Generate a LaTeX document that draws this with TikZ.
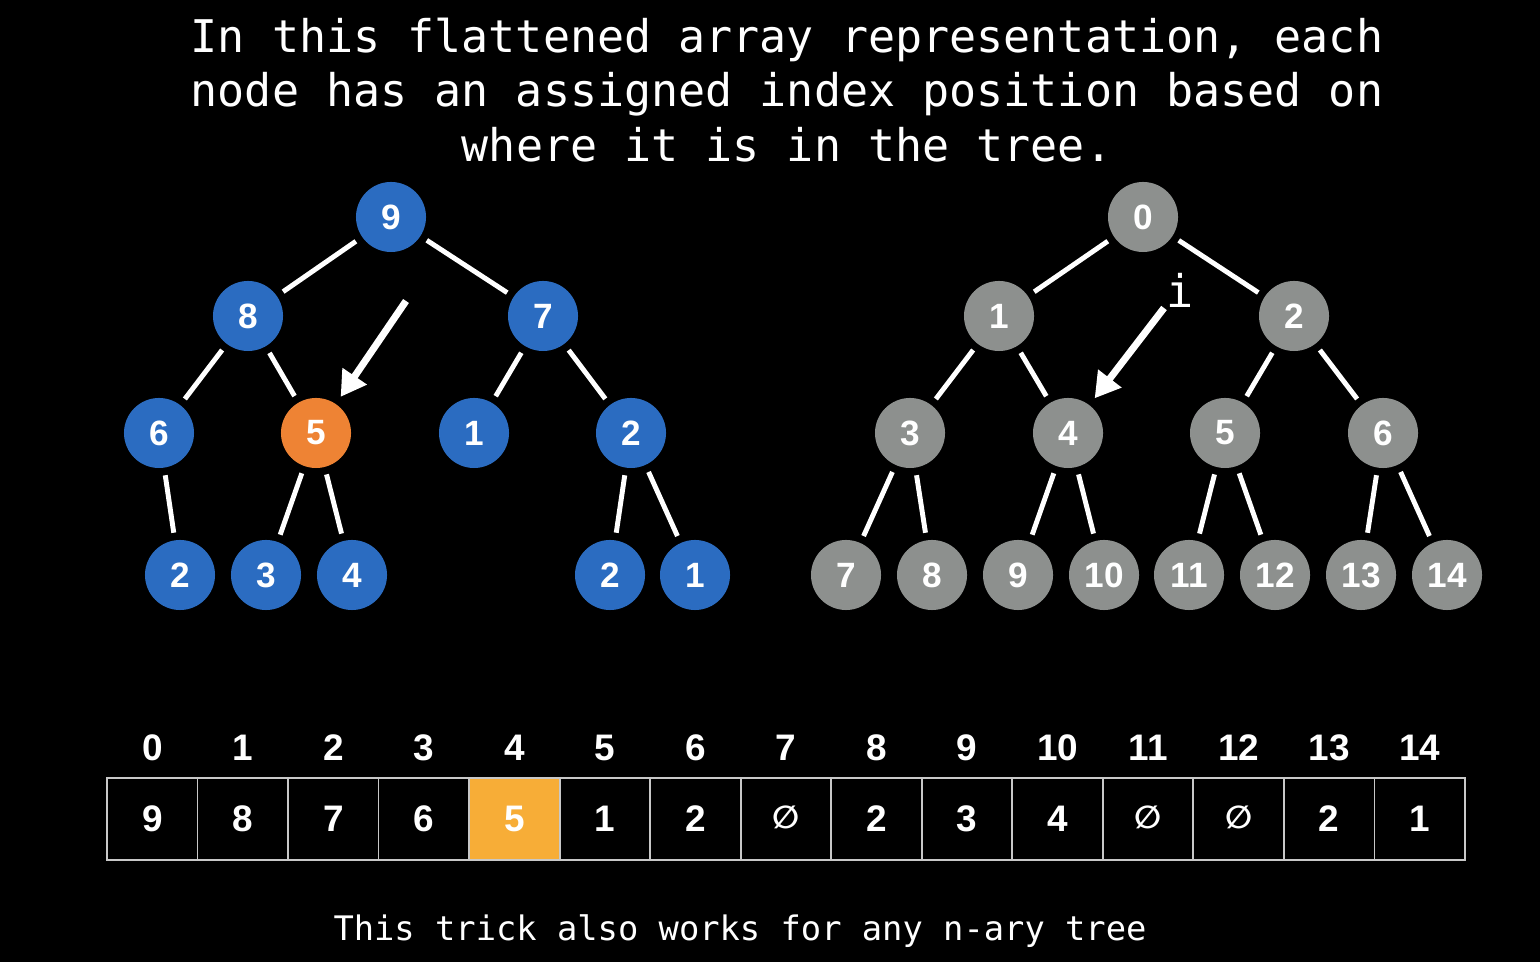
\documentclass[tikz,border=0pt]{standalone}
\usepackage{fontspec}
\setmainfont{Liberation Sans}
\setmonofont{DejaVu Sans Mono}
\newfontfamily\symfont{DejaVu Sans}
\usetikzlibrary{arrows.meta}
\definecolor{heapblue}{HTML}{2B6CC1}
\definecolor{heaporange}{HTML}{EE8334}
\definecolor{cellorange}{HTML}{F7AD37}
\definecolor{idxgray}{HTML}{8D908E}
\definecolor{cellline}{HTML}{C8C8C8}
\newcommand{\nullcell}{{\symfont\fontsize{9}{10}\selectfont\raisebox{1.2pt}{∅}}}

\begin{document}
\begin{tikzpicture}[x=0.01cm,y=-0.01cm,
    vtx/.style={circle, minimum size=0.7cm, inner sep=0pt, text=white,
      font=\bfseries\fontsize{10}{12}\selectfont},
    heapnode/.style={vtx, fill=heapblue},
    picknode/.style={vtx, fill=heaporange},
    idxnode/.style={vtx, fill=idxgray},
    edge/.style={draw=white, line width=1.4pt, shorten <=0.07cm, shorten >=0.07cm},
    pointer/.style={draw=white, line width=2pt,
      -{Triangle[length=0.25cm,width=0.28cm]}, shorten >=0.08cm},
    cell/.style={draw=cellline, line width=0.5pt, minimum width=0.9053cm,
      minimum height=0.82cm, inner sep=0pt, text=white,
      font=\bfseries\fontsize{10.5}{12}\selectfont},
    idx/.style={text=white, inner sep=0pt, font=\bfseries\fontsize{10.5}{12}\selectfont}]
  \fill[black] (0,0) rectangle (1540,962);
  \useasboundingbox (0,0) rectangle (1540,962);

  % title
  \node[text=white, align=center, font=\ttfamily\fontsize{12.8}{15.4}\selectfont] (title) at (787,90)
    {In this flattened array representation, each\\node has an assigned index position based on\\where it is in the tree.};

  % left tree (values)
  \node[heapnode] (L0) at (391,217) {9};
  \node[heapnode] (L1) at (248,316) {8};
  \node[heapnode] (L2) at (543,316) {7};
  \node[heapnode] (L3) at (159,433) {6};
  \node[picknode] (L4) at (316,433) {5};
  \node[heapnode] (L5) at (474,433) {1};
  \node[heapnode] (L6) at (631,433) {2};
  \node[heapnode] (L8) at (180,575) {2};
  \node[heapnode] (L9) at (266,575) {3};
  \node[heapnode] (L10) at (352,575) {4};
  \node[heapnode] (L13) at (610,575) {2};
  \node[heapnode] (L14) at (695,575) {1};
  \foreach \a/\b in {L0/L1,L0/L2,L1/L3,L1/L4,L2/L5,L2/L6,L3/L8,L4/L9,L4/L10,L6/L13,L6/L14}
    \draw[edge] (\a) -- (\b);
  \coordinate (ptrL) at (406,301);
  \draw[pointer] (ptrL) -- (L4);

  % right tree (indices)
  \node[idxnode] (R0) at (1143,217) {0};
  \node[idxnode] (R1) at (999,316) {1};
  \node[idxnode] (R2) at (1294,316) {2};
  \foreach \k/\x in {3/910,4/1068,5/1225,6/1383}
    \node[idxnode] (R\k) at (\x,433) {\k};
  \foreach \k/\x in {7/846,8/932,9/1018,10/1104,11/1189,12/1275,13/1361,14/1447}
    \node[idxnode] (R\k) at (\x,575) {\k};
  \foreach \a/\b in {R0/R1,R0/R2,R1/R3,R1/R4,R2/R5,R2/R6,R3/R7,R3/R8,R4/R9,R4/R10,R5/R11,R5/R12,R6/R13,R6/R14}
    \draw[edge] (\a) -- (\b);
  \node[text=white, inner sep=0pt, font=\ttfamily\fontsize{12.8}{15}\selectfont] (ilabel) at (1180,290) {i};
  \coordinate (ptrR) at (1164,308);
  \draw[pointer] (ptrR) -- (R4);

  % flattened array
  \foreach \v/\f [count=\k from 0] in {9/black,8/black,7/black,6/black,5/cellorange,1/black,2/black,
      \nullcell/black,2/black,3/black,4/black,\nullcell/black,\nullcell/black,2/black,1/black} {
    \node[cell, fill=\f] (c\k) at ({152.27+90.53*\k},819) {\v};
    \node[idx] (i\k) at ({152.27+90.53*\k},748) {\k};
  }

  % footnote
  \node[text=white, font=\ttfamily\fontsize{9.6}{11}\selectfont] (note) at (740,931)
    {This trick also works for any n-ary tree};
\end{tikzpicture}
\end{document}
